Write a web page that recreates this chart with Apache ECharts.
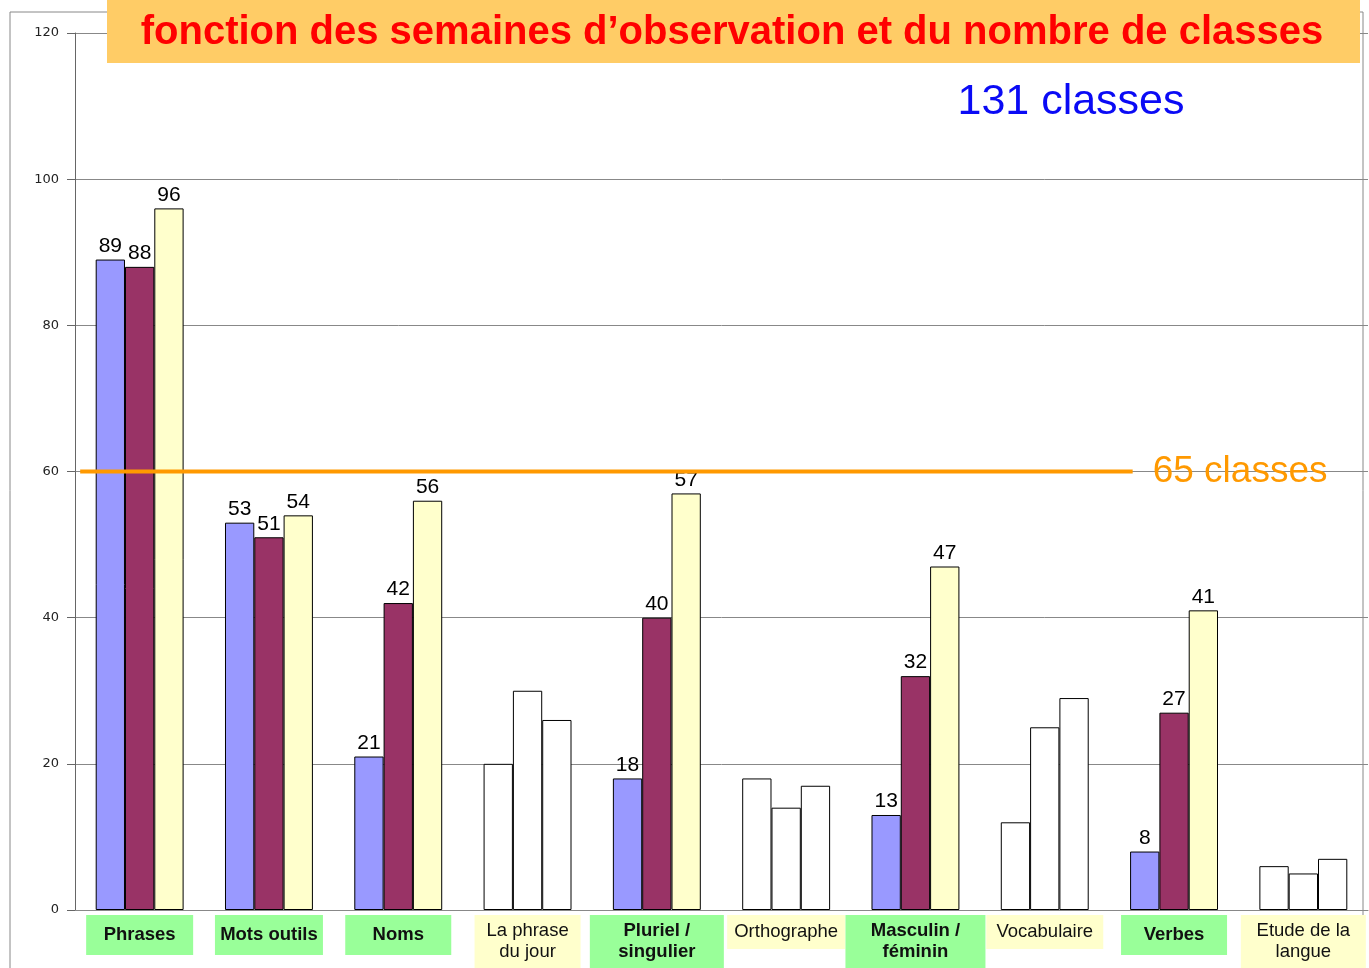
<!DOCTYPE html>
<html lang="fr">
  <head>
    <meta charset="UTF-8" />
    <title>Observations</title>
    <script src="https://cdn.jsdelivr.net/npm/echarts@6/dist/echarts.min.js"></script>
  </head>
  <style>
    html,
    body {
      margin: 0;
      padding: 0;
      background: #fff;
    }
    #echart {
      width: 1369px;
      height: 968px;
    }
  </style>
  <body>
    <div id="echart"></div>
  </body>
  <script>
    const categories = [
      "Phrases",
      "Mots outils",
      "Noms",
      "La phrase\ndu jour",
      "Pluriel /\nsingulier",
      "Orthographe",
      "Masculin /\nféminin",
      "Vocabulaire",
      "Verbes",
      "Etude de la\nlangue",
    ];
    // categories on green labels (coloured bars) vs yellow labels (white bars)
    const highlighted = [true, true, true, false, true, false, true, false, true, false];
    const week1 = [89, 53, 21, 20, 18, 18, 13, 12, 8, 6];
    const week2 = [88, 51, 42, 30, 40, 14, 32, 25, 27, 5];
    const week3 = [96, 54, 56, 26, 57, 17, 47, 29, 41, 7];
    const yTicks = [0, 20, 40, 60, 80, 100, 120];
    const thresholdValue = 60;
    const thresholdSpan = [0.04, 8.18];

    const chart = echarts.init(document.getElementById("echart"));
    const colors = ["#9999FF", "#993366", "#FFFFCC"];

    function makeData(values, color) {
      return values.map((v, i) => ({
        value: v,
        itemStyle: { color: highlighted[i] ? color : "#ffffff" },
        label: { show: highlighted[i] },
      }));
    }

    function barSeries(values, color) {
      return {
        type: "bar",
        data: makeData(values, color),
        barGap: "0%",
        barCategoryGap: "32%",
        itemStyle: { borderColor: "#000", borderWidth: 1 },
        label: {
          position: "top",
          distance: 3,
          color: "#000",
          fontSize: 21,
          fontFamily: "Liberation Sans",
        },
        silent: true,
      };
    }

    // label box styles: g = green/bold, y = yellow/normal; s = single line, t/b = top/bottom line
    function box(bg, bold, width, extra) {
      return Object.assign(
        {
          backgroundColor: bg,
          width: width,
          align: "center",
          fontSize: 18.5,
          fontWeight: bold ? "bold" : "normal",
          color: "#111",
          fontFamily: "Liberation Sans",
        },
        extra
      );
    }
    const boxWidths = [107, 108, 106, 106, 134, 118, 140, 117, 106, 125];

    const rich = {};
    boxWidths.forEach((w, i) => {
      const bg = highlighted[i] ? "#99FF99" : "#FFFFCC";
      const b = highlighted[i];
      rich["s" + i] = box(bg, b, w, { lineHeight: b ? 40 : 34, height: b ? 40 : 34 });
      rich["t" + i] = box(bg, b, w, { height: 21, padding: [5, 0, 0, 0] });
      rich["b" + i] = box(bg, b, w, { height: 21, padding: [0, 0, 6, 0] });
    });

    const option = {
      animation: false,
      grid: { left: 75, right: 1, top: 33, bottom: 57 },
      xAxis: [
        {
          type: "category",
          data: categories,
          axisLine: { lineStyle: { color: "#888" } },
          axisTick: { length: 6, lineStyle: { color: "#888" } },
          axisLabel: {
            interval: 0,
            margin: 5,
            formatter: (v, i) => {
              const parts = v.split("\n");
              if (parts.length === 1) return "{s" + i + "|" + v + "}";
              return "{t" + i + "|" + parts[0] + "}\n{b" + i + "|" + parts[1] + "}";
            },
            rich: rich,
          },
        },
        { type: "value", min: 0, max: 10, show: false },
      ],
      yAxis: {
        type: "value",
        min: yTicks[0],
        max: yTicks[yTicks.length - 1],
        interval: yTicks[1] - yTicks[0],
        axisLine: { show: true, lineStyle: { color: "#666" } },
        axisTick: { show: true, length: 8, lineStyle: { color: "#666" } },
        axisLabel: {
          margin: 16,
          fontSize: 13,
          color: "#222",
          fontFamily: "DejaVu Sans",
        },
        splitLine: { lineStyle: { color: "#888", width: 1 } },
      },
      series: [
        barSeries(week1, colors[0]),
        barSeries(week2, colors[1]),
        barSeries(week3, colors[2]),
        {
          type: "line",
          xAxisIndex: 1,
          data: thresholdSpan.map((x) => [x, thresholdValue]),
          symbol: "none",
          z: 10,
          silent: true,
          lineStyle: { color: "#FF9900", width: 4 },
          endLabel: {
            show: true,
            formatter: "65 classes",
            distance: 20,
            color: "#FF9900",
            fontSize: 37,
            fontFamily: "Liberation Sans",
          },
        },
      ],
      graphic: [
        {
          type: "rect",
          shape: { x: 10, y: 12, width: 1353, height: 1000 },
          style: { fill: "none", stroke: "#888", lineWidth: 1 },
          z: -10,
        },
        {
          type: "rect",
          shape: { x: 107, y: 0, width: 1253, height: 63 },
          style: { fill: "#FFCC66" },
          z: 20,
        },
        {
          type: "text",
          x: 732,
          y: 33,
          z: 21,
          style: {
            text: "fonction des semaines d’observation et du nombre de classes",
            fill: "#FF0000",
            font: "bold 40px 'Liberation Sans'",
            align: "center",
            verticalAlign: "middle",
          },
        },
        {
          type: "text",
          x: 1071,
          y: 102,
          z: 21,
          style: {
            text: "131 classes",
            fill: "#0A0AF5",
            font: "43px 'Liberation Sans'",
            align: "center",
            verticalAlign: "middle",
          },
        },
      ],
    };

    chart.setOption(option);
  </script>
</html>
